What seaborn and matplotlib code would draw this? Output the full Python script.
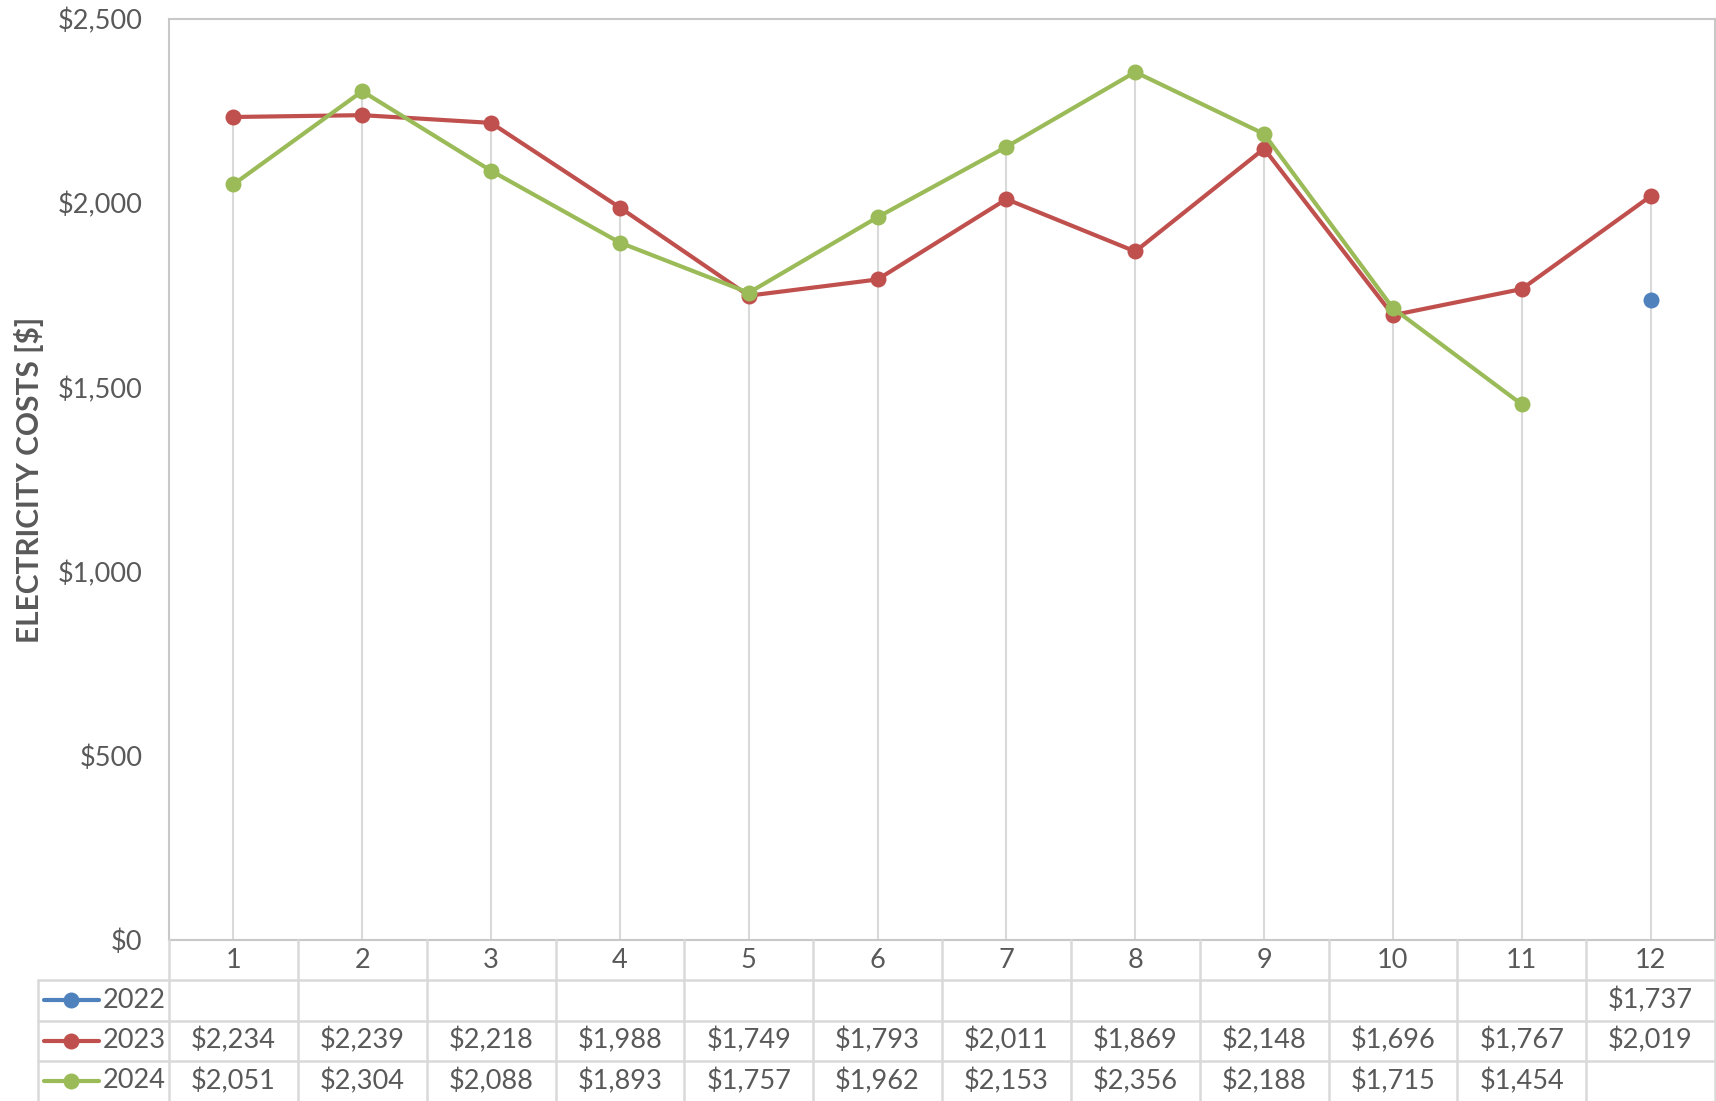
import numpy as np
import pandas as pd
import matplotlib
matplotlib.use("Agg")
import matplotlib.pyplot as plt
import seaborn as sns

months = list(range(1, 13))
years = ["2022", "2023", "2024"]
cost_2022 = [np.nan] * 11 + [1737]
cost_2023 = [2234, 2239, 2218, 1988, 1749, 1793, 2011, 1869, 2148, 1696, 1767, 2019]
cost_2024 = [2051, 2304, 2088, 1893, 1757, 1962, 2153, 2356, 2188, 1715, 1454, np.nan]
colors = {"2022": "#4F81BD", "2023": "#C0504D", "2024": "#9BBB59"}
yticks = [0, 500, 1000, 1500, 2000, 2500]

series = {"2022": cost_2022, "2023": cost_2023, "2024": cost_2024}
df = pd.DataFrame(
    [(m, y, v) for y in years for m, v in zip(months, series[y])],
    columns=["Month", "Year", "Cost"],
).dropna()

sns.set_theme(style="white")
plt.rcParams["font.family"] = ["Lato", "DejaVu Sans"]
TXT = "#595959"
GRID = "#D9D9D9"
FS = 19.5

W, H = 1716, 1101
fig = plt.figure(figsize=(W / 100, H / 100), dpi=100)
left, right, top, bottom = 169, 1715, 19, 940
ax = fig.add_axes([left / W, (H - bottom) / H, (right - left) / W, (bottom - top) / H])

# drop lines up to the highest point of each month
max_vals = np.nanmax(np.array([cost_2022, cost_2023, cost_2024], dtype=float), axis=0)
ax.vlines(months, 0, max_vals, color=GRID, lw=1.5, zorder=1)

for y in years:
    sns.lineplot(
        data=df[df["Year"] == y], x="Month", y="Cost", color=colors[y],
        marker="o", markersize=11.5, markeredgewidth=0, linewidth=3,
        ax=ax, zorder=3, legend=False,
    )

ax.set_xlim(0.5, 12.5)
ax.set_ylim(0, 2500)
ax.set_xticks([])
ax.set_yticks(yticks)
ax.set_yticklabels([f"${v:,}" for v in yticks], fontsize=FS, color=TXT)
ax.tick_params(axis="y", length=0, pad=19)
ax.set_xlabel("")
ax.set_ylabel("")
fig.text(29 / W, 1 - (top + bottom) / 2 / H, "ELECTRICITY COSTS [$]", rotation=90,
         ha="center", va="center", fontsize=21.5, fontweight="bold", color=TXT)
for s in ax.spines.values():
    s.set_color("#C8C8C8")
    s.set_linewidth(1.5)

# data table under the chart
px_per_month = (right - left) / 12
tab_left = 0.5 - (left - 38) / px_per_month
tab = fig.add_axes([38 / W, 0, (right - 38) / W, (H - bottom) / H])
tab.set_xlim(tab_left, 12.5)
tab.set_ylim(0, 4)
tab.axis("off")

for yy in [1, 2, 3]:
    tab.plot([tab_left, 12.5], [yy, yy], color=GRID, lw=1.8, clip_on=False)
for xx in np.arange(0.5, 13.5, 1):
    tab.plot([xx, xx], [0, 4], color=GRID, lw=1.8, clip_on=False)
tab.plot([tab_left, tab_left], [0, 3], color=GRID, lw=1.8, clip_on=False)

for m in months:
    tab.text(m, 3.5, str(m), ha="center", va="center", fontsize=FS, color=TXT)

def px2m(px):
    return 0.5 + (px - left) / px_per_month

for i, y in enumerate(years):
    row_y = 2.5 - i
    tab.plot([px2m(44), px2m(99)], [row_y, row_y], color=colors[y], lw=3,
             solid_capstyle="round", clip_on=False)
    tab.plot([px2m(71)], [row_y], marker="o", markersize=11.5, color=colors[y],
             markeredgewidth=0, clip_on=False)
    tab.text(px2m(103), row_y, y, ha="left", va="center", fontsize=FS, color=TXT)
    for m, v in zip(months, series[y]):
        if not np.isnan(v):
            tab.text(m, row_y, f"${int(v):,}", ha="center", va="center",
                     fontsize=FS, color=TXT)

fig.savefig("out.png", dpi=100)
